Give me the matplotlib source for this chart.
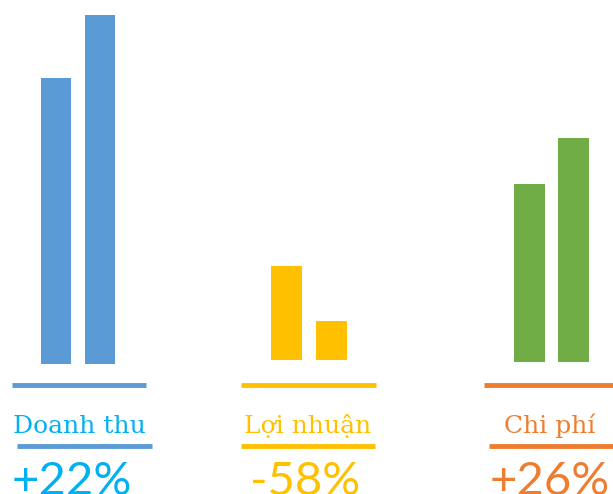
import matplotlib.pyplot as plt

# Data: each group compares two periods
groups = ["Doanh thu", "Lợi nhuận", "Chi phí"]
changes = ["+22%", "-58%", "+26%"]
doanh_thu = [100, 122]
loi_nhuan = [100, 42]
chi_phi = [100, 126]

bar_colors = ["#5B9BD5", "#FFC000", "#70AD47"]
text_colors = ["#00B0F0", "#FFC000", "#ED7D31"]
line_colors = ["#5B9BD5", "#FFC000", "#ED7D31"]

W, H = 613, 494
fig = plt.figure(figsize=(W / 100, H / 100), dpi=100)


def px_axes(x0, y0, x1, y1):
    # axes from pixel box (top-left origin)
    return fig.add_axes([x0 / W, 1 - y1 / H, (x1 - x0) / W, (y1 - y0) / H])


# bar boxes: (left, top, right, bottom) in pixels
boxes = [(41, 15, 115, 364), (271, 266, 347, 360), (514, 138, 589, 362)]
series = [doanh_thu, loi_nhuan, chi_phi]
ymaxes = [122, 100, 126]

for box, vals, c, ymax in zip(boxes, series, bar_colors, ymaxes):
    ax = px_axes(*box)
    ax.bar([0, 1], vals, width=0.7, color=c)
    ax.set_xlim(-0.35, 1.35)
    ax.set_ylim(0, ymax)
    ax.axis("off")

# overlay for lines and labels
ov = fig.add_axes([0, 0, 1, 1])
ov.set_xlim(0, W)
ov.set_ylim(H, 0)
ov.axis("off")

line1 = [(12, 146), (241, 376), (484, 613)]
line2 = [(17, 152), (241, 375), (489, 613)]
label_x = [79, 308, 550]
pct_x = [72, 305, 550]

for i in range(3):
    ov.plot(line1[i], [385, 385], color=line_colors[i], lw=3.5, solid_capstyle="butt")
    ov.plot(line2[i], [446, 446], color=line_colors[i], lw=3.5, solid_capstyle="butt")
    ov.text(label_x[i], 433, groups[i], color=text_colors[i], fontsize=18,
            family="DejaVu Serif", ha="center", va="baseline")
    ov.text(pct_x[i], 461, changes[i], color=text_colors[i], fontsize=34,
            family="Lato", ha="center", va="top")

fig.savefig("out.png", dpi=100)
